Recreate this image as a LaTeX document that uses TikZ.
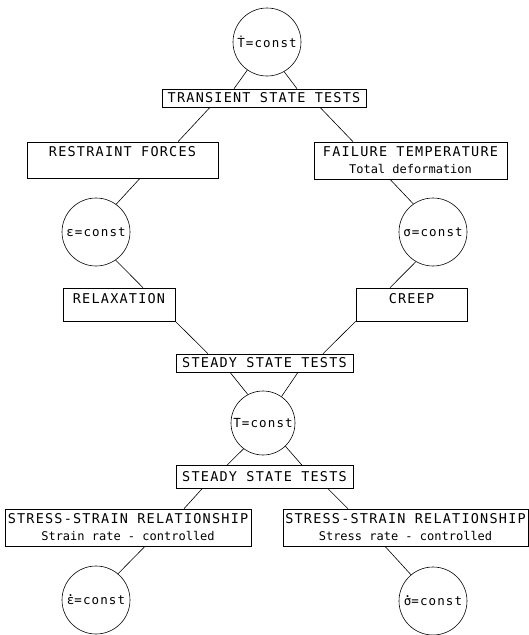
\documentclass[tikz,border=0pt]{standalone}
\usepackage{fontspec}
\usetikzlibrary{calc}
\newfontfamily\plotfont[LetterSpace=9]{DejaVu Sans Mono}
\newfontfamily\plotsmall{DejaVu Sans Mono}
\newcommand\dotover[1]{\ooalign{#1\cr\hidewidth\raisebox{0.6em}{.}\hidewidth\cr}}

\begin{document}
\begin{tikzpicture}[x=1pt,y=-1pt,line width=0.6pt,
    box/.style={draw,inner sep=0pt,align=center,font=\plotfont\fontsize{13.5}{17}\selectfont},
    state/.style={draw,circle,inner sep=0pt,minimum size=68pt,font=\plotfont\fontsize{12.5}{14}\selectfont}]
        \useasboundingbox (0,0) rectangle (529,635);
        % transient state branch
        \node[state] (tdot) at (267,42) {Ṫ=const};
        \node[box,minimum width=204pt,minimum height=18pt] (trans) at (264,98) {TRANSIENT STATE TESTS};
        \node[box,minimum width=191pt,minimum height=36pt] (restr) at (122.5,160) {RESTRAINT FORCES\\\mbox{}};
        \node[box,minimum width=193pt,minimum height=37pt] (fail) at (410.5,160.5) {FAILURE TEMPERATURE\\{\plotsmall\fontsize{12}{17}\selectfont Total deformation}};
        \node[state] (eps) at (96,232) {ε=const};
        \node[state] (sig) at (433,232) {σ=const};
        \node[box,minimum width=112pt,minimum height=33pt] (relax) at (119,304.5) {RELAXATION\\[-4pt]\mbox{}};
        \node[box,minimum width=111pt,minimum height=33pt] (creep) at (411.5,304.5) {CREEP\\[-4pt]\mbox{}};
        % steady state branch
        \node[box,minimum width=177pt,minimum height=18pt] (steady) at (264.5,363) {STEADY STATE TESTS};
        \node[state,minimum size=64pt] (tc) at (263,423) {T=const};
        \node[box,minimum width=177pt,minimum height=23pt] (steadyb) at (264.5,477) {STEADY STATE TESTS};
        \node[box,minimum width=246pt,minimum height=37pt] (ssl) at (128,527.5) {STRESS-STRAIN RELATIONSHIP\\{\plotsmall\fontsize{12}{17}\selectfont Strain rate - controlled}};
        \node[box,minimum width=245pt,minimum height=37pt] (ssr) at (405.5,527.5) {STRESS-STRAIN RELATIONSHIP\\{\plotsmall\fontsize{12}{17}\selectfont Stress rate - controlled}};
        \node[state] (epsdot) at (96,600) {\dotover{ε}=const};
        \node[state] (sigdot) at (433,601) {\dotover{σ}=const};

        \draw (tdot.235)--([xshift=-30pt]trans.north);
        \draw (tdot.300)--([xshift=33pt]trans.north);
        \draw ([xshift=-54pt]trans.south)--([xshift=55.5pt]restr.north);
        \draw ([xshift=56pt]trans.south)--([xshift=-57.5pt]fail.north);
        \draw ([xshift=17.5pt]restr.south)--(eps.54);
        \draw ([xshift=-20.5pt]fail.south)--(sig.125);
        \draw (eps.305)--([xshift=24pt]relax.north);
        \draw (sig.240)--([xshift=-21.5pt]creep.north);
        \draw (relax.south east)--([xshift=-56.5pt]steady.north);
        \draw (creep.south west)--([xshift=58.5pt]steady.north);
        \draw ([xshift=-34.5pt]steady.south)--(tc.118);
        \draw ([xshift=33.5pt]steady.south)--(tc.55);
        \draw (tc.233)--([xshift=-37.5pt]steadyb.north);
        \draw (tc.314)--([xshift=37.5pt]steadyb.north);
        \draw ([xshift=-62.5pt]steadyb.south)--([xshift=56pt]ssl.north);
        \draw ([xshift=63.5pt]steadyb.south)--([xshift=-57.5pt]ssr.north);
        \draw ([xshift=17pt]ssl.south)--(epsdot.50);
        \draw ([xshift=-20.5pt]ssr.south)--(sigdot.130);
      \end{tikzpicture}
\end{document}
